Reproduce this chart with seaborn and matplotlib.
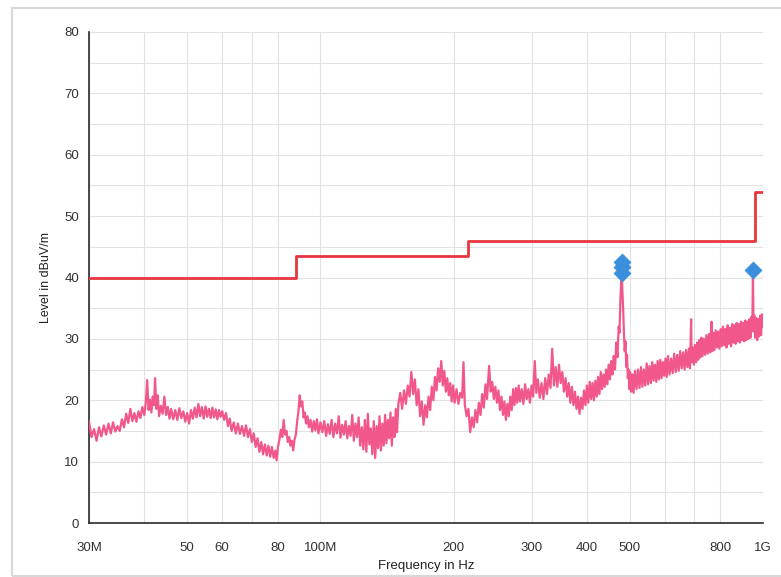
import numpy as np
import pandas as pd
import matplotlib
matplotlib.use("Agg")
import matplotlib.pyplot as plt
from matplotlib.patches import Rectangle
from matplotlib.ticker import FixedLocator, FixedFormatter, NullFormatter
import seaborn as sns

# ---------------- data ----------------
# measured trace (frequency in MHz, level in dBuV/m), read off the picture
trace_freq_mhz = [
    30.0, 30.4, 30.8, 31.2, 31.6, 32.0, 32.4, 32.8, 33.2, 33.6, 34.0, 34.4, 34.8, 35.2,
    35.6, 36.0, 36.4, 36.8, 37.2, 37.6, 38.0, 38.4, 38.8, 39.2, 39.6, 40.0, 40.3, 40.6,
    40.9, 41.2, 41.5, 41.8, 42.1, 42.3, 42.6, 42.9, 43.2, 43.6, 44.0, 44.4, 44.8, 45.2,
    45.6, 46.0, 46.5, 47.0, 47.5, 48.0, 48.5, 49.0, 49.5, 50.0, 50.5, 51.0, 51.5, 52.0,
    52.5, 53.0, 53.5, 54.0, 54.5, 55.0, 55.5, 56.0, 56.5, 57.0, 57.5, 58.0, 58.5, 59.0,
    59.5, 60.0, 60.6, 61.2, 61.8, 62.4, 63.0, 63.7, 64.4, 65.1, 65.8, 66.5, 67.2, 67.9,
    68.6, 69.3, 70.0, 70.7, 71.4, 72.1, 72.8, 73.5, 74.2, 74.9, 75.6, 76.3, 77.0, 77.7,
    78.4, 79.1, 79.6, 80.2, 80.8, 81.4, 82.0, 82.6, 83.2, 83.8, 84.4, 85.0, 85.6, 86.2,
    86.8, 87.4, 88.0, 88.6, 89.2, 89.8, 90.4, 91.0, 91.6, 92.2, 92.8, 93.5, 94.2, 95.0,
    95.8, 96.6, 97.4, 98.2, 99.0, 100, 101, 102, 103, 104, 105, 106, 107, 108,
    109, 110, 111, 112, 113, 114, 115, 116, 117, 118, 119, 120, 121, 122,
    123, 124, 125, 126, 127, 128, 129, 130, 131, 132, 133, 134, 135, 136,
    137, 138, 139, 140, 141, 142, 143, 144, 145, 146, 147, 148, 149, 150,
    151.5, 153, 154.5, 156, 157.5, 159, 160.5, 162, 163.5, 165, 166.5, 168, 169.5, 171,
    172.5, 174, 175.5, 177, 178.5, 180, 181.5, 183, 184.5, 186, 187.5, 189, 190.5, 192,
    193.5, 195, 196.5, 198, 199.5, 201, 203, 205, 207, 209, 210.5, 212, 214, 216,
    218, 220, 222, 224, 226, 228, 230, 232, 234, 236, 238, 240.5, 242.5, 244.5,
    246.5, 248.5, 250.5, 252.5, 254.5, 256.5, 258.5, 260.5, 262.5, 264.5, 266.5, 268.5, 270.5, 272.5,
    274.5, 276.5, 278.5, 280.5, 282.5, 285, 287.5, 290, 292.5, 295, 297.5, 300, 302.5, 305,
    307.5, 310, 313, 316, 319, 322, 325, 328, 331, 334, 337, 340, 343, 346,
    349, 352, 355, 358, 361, 364, 367, 370, 373, 376, 379, 382, 385, 388,
    391, 394, 397, 400, 403, 406, 409, 412, 415, 418, 421, 424, 427, 430,
    433, 436, 439, 442, 445, 448, 451, 454, 457, 460, 463, 466, 469, 472,
    474, 476, 478, 479, 480, 481, 483, 485, 487, 489, 491, 493, 495, 497,
    499, 501, 504, 507, 510, 514, 518, 522, 526, 530, 534, 538, 542, 546,
    550, 554, 558, 562, 566, 570, 574, 578, 582, 586, 590, 594, 598, 602,
    606, 610, 615, 620, 625, 630, 635, 640, 645, 650, 655, 660, 665, 670,
    675, 680, 684, 688, 690, 694, 698, 702, 706, 710, 714, 718, 722, 726,
    730, 735, 740, 745, 750, 755, 760, 765, 768, 772, 777, 782, 787, 792,
    797, 802, 807, 812, 817, 822, 827, 832, 837, 842, 847, 852, 857, 862,
    867, 872, 877, 882, 887, 892, 897, 902, 907, 912, 917, 922, 927, 932,
    937, 942, 946, 949, 952, 956, 960, 965, 970, 975, 980, 985, 990, 995, 1000,
]
trace_level_db = [
    16.6, 14.0, 15.3, 13.4, 15.6, 14.1, 15.9, 14.4, 16.2, 14.6, 16.4, 14.9, 15.8, 15.0,
    16.9, 15.6, 17.8, 16.3, 18.6, 16.6, 17.9, 16.5, 18.2, 17.1, 18.9, 17.6, 19.5, 23.3,
    18.4, 20.1, 18.0, 20.6, 19.2, 23.6, 18.6, 20.8, 17.4, 19.1, 17.8, 20.6, 17.6, 18.9,
    17.0, 18.6, 16.9, 18.4, 16.8, 18.7, 17.1, 18.2, 16.5, 17.9, 16.2, 18.4, 17.0, 18.8,
    17.2, 19.4, 17.4, 18.9, 17.0, 19.0, 17.3, 18.6, 17.1, 18.8, 17.2, 18.5, 16.9, 18.4,
    17.3, 18.2, 16.8, 17.9, 15.8, 17.0, 15.0, 16.4, 14.6, 16.2, 14.5, 15.8, 14.2, 15.9,
    14.0, 15.3, 13.2, 14.6, 12.4, 13.8, 11.6, 13.2, 11.2, 12.8, 11.0, 12.6, 10.8, 12.4,
    10.6, 11.8, 10.2, 12.4, 13.6, 15.2, 14.0, 16.8, 14.4, 15.0, 13.2, 14.0, 12.6, 13.4,
    11.8, 13.6, 14.4, 16.6, 18.2, 20.8, 19.0, 19.8, 17.2, 18.0, 16.2, 17.4, 15.6, 16.8,
    14.9, 16.6, 15.1, 16.9, 14.6, 16.4, 14.8, 16.6, 14.2, 16.1, 14.5, 16.8, 14.0, 16.2,
    14.6, 17.4, 13.9, 16.0, 14.4, 16.6, 13.8, 15.8, 14.2, 17.6, 13.4, 16.2, 14.0, 17.2,
    12.6, 15.6, 12.0, 16.8, 11.6, 17.8, 12.8, 15.4, 11.2, 16.6, 10.6, 15.8, 12.2, 17.4,
    11.8, 16.2, 12.6, 17.6, 13.0, 16.8, 13.8, 18.0, 12.6, 17.2, 14.0, 18.6, 14.8, 19.4,
    21.2, 18.6, 21.6, 19.4, 22.4, 20.6, 24.6, 21.0, 23.4, 19.2, 21.8, 17.4, 19.8, 16.0,
    19.2, 17.2, 20.6, 18.4, 22.2, 20.0, 23.8, 21.6, 25.2, 23.0, 26.4, 22.4, 24.8, 21.4,
    23.6, 20.8, 22.8, 19.8, 22.4, 19.6, 21.8, 19.4, 21.2, 20.4, 26.2, 19.2, 17.4, 18.6,
    14.8, 17.2, 15.6, 18.4, 16.4, 19.6, 17.6, 21.0, 18.8, 22.6, 20.2, 25.6, 21.4, 23.0,
    20.2, 22.2, 19.6, 21.6, 18.4, 20.6, 17.6, 19.8, 16.8, 19.4, 17.4, 20.6, 18.4, 21.8,
    19.2, 22.0, 19.6, 22.4, 19.8, 21.8, 19.4, 22.6, 20.2, 21.8, 19.6, 22.4, 20.6, 26.4,
    21.2, 23.4, 20.4, 22.8, 20.2, 23.6, 21.0, 24.2, 22.0, 28.4, 22.4, 25.4, 22.2, 25.8,
    22.8, 24.6, 21.4, 23.6, 20.6, 22.8, 19.6, 22.2, 19.2, 21.4, 18.6, 20.6, 17.8, 20.4,
    18.6, 21.6, 19.2, 22.4, 19.6, 23.0, 20.2, 22.8, 20.0, 23.2, 20.6, 23.8, 21.0, 24.6,
    21.8, 24.2, 22.2, 25.0, 22.6, 25.8, 23.4, 26.4, 24.2, 27.2, 25.0, 29.4, 27.0, 32.0,
    31.0, 36.0, 39.0, 41.5, 40.0, 38.0, 35.0, 31.0, 28.0, 29.6, 25.4, 27.4, 23.6, 25.0,
    21.8, 24.6, 21.4, 24.2, 21.2, 24.8, 21.8, 25.0, 22.0, 25.4, 22.2, 25.0, 22.4, 26.0,
    22.6, 25.6, 22.8, 26.2, 23.2, 25.8, 23.0, 26.4, 23.4, 26.6, 23.6, 26.2, 24.0, 26.8,
    23.8, 27.2, 24.2, 26.8, 24.4, 27.6, 24.6, 27.4, 24.8, 28.0, 25.2, 27.8, 25.0, 28.2,
    25.4, 28.4, 25.2, 33.2, 26.2, 28.6, 25.8, 29.0, 26.2, 29.4, 26.6, 29.8, 27.0, 30.2,
    27.2, 30.0, 27.4, 30.6, 27.6, 30.8, 27.8, 32.8, 28.0, 31.0, 28.2, 31.4, 28.6, 31.2,
    28.4, 31.6, 28.8, 32.0, 29.0, 31.6, 28.6, 32.2, 29.2, 31.8, 28.8, 32.4, 29.4, 32.2,
    29.2, 32.6, 29.6, 32.4, 29.4, 32.8, 29.8, 32.6, 29.6, 33.0, 29.8, 32.8, 30.0, 33.2,
    30.2, 33.6, 31.4, 40.8, 31.2, 33.8, 30.2, 33.4, 29.8, 33.2, 30.4, 33.8, 30.6, 34.0, 32.0,
]

# limit line (step, post)
limit_freq_mhz = [30, 88, 216, 960, 1000]
limit_level_db = [40.0, 43.5, 46.0, 54.0, 54.0]

# final measurement markers
marker_freq_mhz = [479, 479, 479, 949]
marker_level_db = [42.5, 41.7, 40.8, 41.3]

# axis ticks
xtick_mhz = [30, 40, 50, 60, 70, 80, 100, 200, 300, 400, 500, 600, 700, 800, 1000]
xtick_labels = ["30M", "", "50", "60", "", "80", "100M", "200", "300", "400", "500", "", "", "800", "1G"]
ytick_major = [0, 10, 20, 30, 40, 50, 60, 70, 80]
ytick_minor = [5, 15, 25, 35, 45, 55, 65, 75]

# ---------------- styling ----------------
sns.set_theme(style="white")
plt.rcParams["font.family"] = ["Liberation Sans", "DejaVu Sans"]

W, H = 781, 577
fig = plt.figure(figsize=(W / 100, H / 100), dpi=100)
fig.patch.set_facecolor("white")
fig.patches.append(Rectangle((12 / W, 1 / H), 1.0, (576 - 8) / H, transform=fig.transFigure,
                             fill=False, edgecolor="#d8d8d8", lw=1.5))

ax = fig.add_axes([89 / W, 1 - 523 / H, (763 - 89) / W, (523 - 32) / H])
ax.set_facecolor("white")

df_trace = pd.DataFrame({"freq": np.array(trace_freq_mhz) * 1e6, "level": trace_level_db})
df_limit = pd.DataFrame({"freq": np.array(limit_freq_mhz) * 1e6, "level": limit_level_db})
df_mark = pd.DataFrame({"freq": np.array(marker_freq_mhz) * 1e6, "level": marker_level_db})

sns.lineplot(data=df_trace, x="freq", y="level", ax=ax, color="#F2578B", lw=1.6,
             estimator=None, sort=False, zorder=3)
sns.lineplot(data=df_limit, x="freq", y="level", ax=ax, color="#E8353E", lw=2.0,
             estimator=None, sort=False, drawstyle="steps-post", zorder=4)
sns.scatterplot(data=df_mark, x="freq", y="level", ax=ax, marker="D", s=75,
                color="#3A8EDB", edgecolor="#3A8EDB", linewidth=0.5, zorder=5)

ax.set_xscale("log")
ax.set_xlim(30e6, 1e9)
ax.set_ylim(0, 80)

ax.xaxis.set_major_locator(FixedLocator([f * 1e6 for f in xtick_mhz]))
ax.xaxis.set_major_formatter(FixedFormatter(xtick_labels))
ax.xaxis.set_minor_locator(FixedLocator([]))
ax.xaxis.set_minor_formatter(NullFormatter())
ax.yaxis.set_major_locator(FixedLocator(ytick_major))
ax.yaxis.set_minor_locator(FixedLocator(ytick_minor))

ax.grid(True, which="major", axis="x", color="#e2e2e2", lw=0.8)
ax.grid(True, which="both", axis="y", color="#e2e2e2", lw=0.8)
ax.set_axisbelow(True)

for s in ["top", "right"]:
    ax.spines[s].set_visible(False)
for s in ["left", "bottom"]:
    ax.spines[s].set_color("#2a2a2a")
    ax.spines[s].set_linewidth(1.2)

ax.tick_params(axis="both", which="major", direction="inout", length=8, width=1.0,
               color="#2a2a2a", labelsize=9.5, labelcolor="#333333")
ax.tick_params(axis="y", which="minor", direction="inout", length=7, width=1.0, color="#2a2a2a")
ax.tick_params(axis="x", which="major", pad=10)
ax.tick_params(axis="y", which="major", pad=3)

ax.set_xlabel("Frequency in Hz", fontsize=9.5, color="#222222", labelpad=4)
ax.set_ylabel("Level in dBuV/m", fontsize=9, color="#222222", labelpad=9)

fig.savefig("out.png", dpi=100, facecolor="white")
